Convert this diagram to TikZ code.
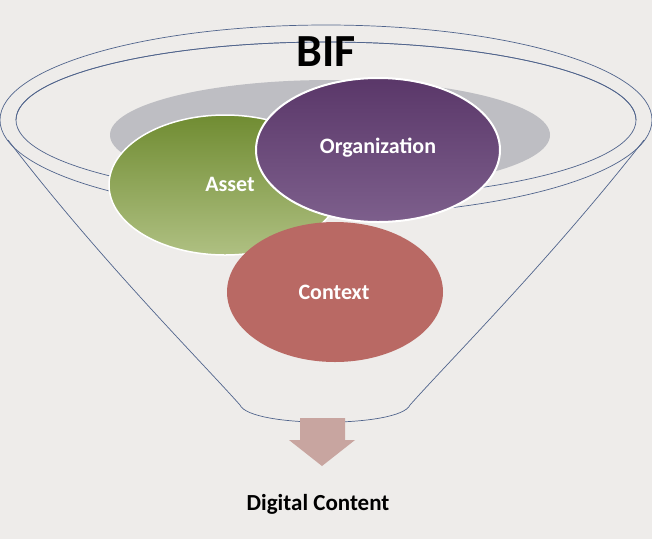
\documentclass[tikz,border=0pt]{standalone}
\usepackage{fontspec}
\setmainfont{Carlito}
\definecolor{fl}{RGB}{80,100,140}
\definecolor{gtop}{RGB}{112,140,50}
\definecolor{gbot}{RGB}{175,192,130}
\definecolor{ptop}{RGB}{90,55,105}
\definecolor{pbot}{RGB}{125,95,140}
\definecolor{ctx}{RGB}{185,105,100}
\definecolor{arr}{RGB}{200,165,160}
\definecolor{bg}{RGB}{238,236,234}
\definecolor{gr}{RGB}{190,190,195}
\begin{document}
\begin{tikzpicture}[x=1pt,y=-1pt,
  lbl/.style={font=\bfseries\fontsize{22}{24}\selectfont, text=white},
  fun/.style={draw=fl, line width=0.7pt}]
\fill[bg] (0,0) rectangle (652,539);
\useasboundingbox (0,0) rectangle (652,539);
\draw[fun] (326,120) ellipse [x radius=326, y radius=95];
\draw[fun] (326,120) ellipse [x radius=310, y radius=78];
\draw[fun] (8,140) .. controls (100,260) and (200,360) .. (240,405)
  .. controls (250,428) and (400,428) .. (410,405)
  .. controls (450,360) and (550,260) .. (644,140);
\fill[gr] (330,135) ellipse [x radius=220, y radius=55];
\shade[top color=gtop, bottom color=gbot, draw=white, line width=1.5pt]
  (225,185) ellipse [x radius=116, y radius=70];
\shade[top color=ptop, bottom color=pbot, draw=white, line width=2pt]
  (378,150) ellipse [x radius=122, y radius=72];
\draw[fun] (16,120) arc [start angle=180, end angle=360, x radius=310, y radius=78];
\node[lbl] (asset) at (230,184) {Asset};
\node[lbl] (org) at (378,148) {Organization};
\fill[ctx] (335,292) ellipse [x radius=108, y radius=70];
\node[lbl] (c) at (334,292) {Context};
\fill[arr] (300,418) -- (345,418) -- (345,440) -- (355,440) -- (322,466) -- (289,440) -- (300,440) -- cycle;
\node[font=\bfseries\fontsize{23}{25}\selectfont] (dc) at (318,504) {Digital Content};
\node[font=\bfseries\fontsize{46}{48}\selectfont] (bif) at (326,52) {BIF};
\end{tikzpicture}
\end{document}
